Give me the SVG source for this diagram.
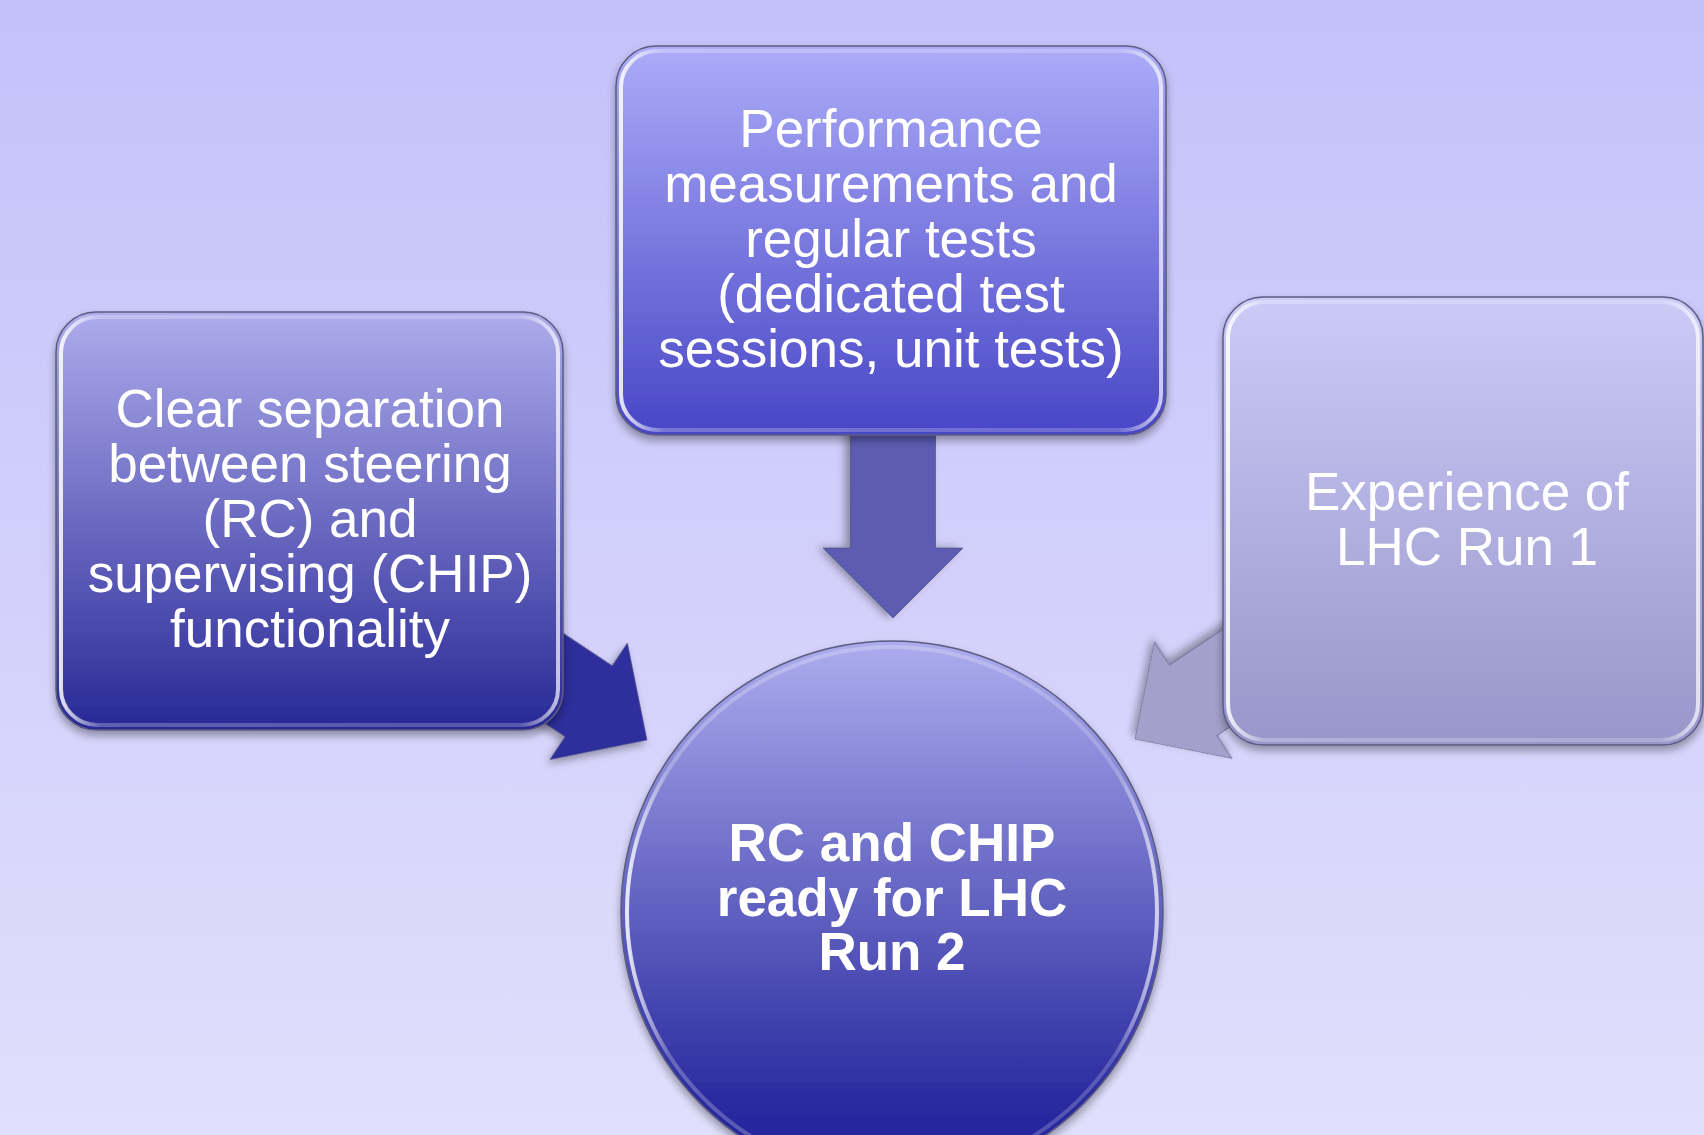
<svg xmlns="http://www.w3.org/2000/svg" width="1704" height="1135" viewBox="0 0 1704 1135">
  <defs>
    <linearGradient id="bg" x1="0" y1="0" x2="0" y2="1">
      <stop offset="0" stop-color="#c4c1fa"/>
      <stop offset="1" stop-color="#e0dffc"/>
    </linearGradient>
    <linearGradient id="gTop" x1="0" y1="0" x2="0" y2="1">
      <stop offset="0" stop-color="#acacf9"/>
      <stop offset="1" stop-color="#4846c6"/>
    </linearGradient>
    <linearGradient id="gLeft" x1="0" y1="0" x2="0" y2="1">
      <stop offset="0" stop-color="#aeacec"/>
      <stop offset="1" stop-color="#282896"/>
    </linearGradient>
    <linearGradient id="gRight" x1="0" y1="0" x2="0" y2="1">
      <stop offset="0" stop-color="#cccaf7"/>
      <stop offset="1" stop-color="#9896ca"/>
    </linearGradient>
    <linearGradient id="gCircle" x1="0" y1="0" x2="0" y2="1">
      <stop offset="0" stop-color="#acacee"/>
      <stop offset="0.85" stop-color="#2a2aa0"/>
      <stop offset="1" stop-color="#20209a"/>
    </linearGradient>
    <linearGradient id="hl" x1="0" y1="0" x2="1" y2="0">
      <stop offset="0" stop-color="#ffffff" stop-opacity="0.85"/>
      <stop offset="0.08" stop-color="#ffffff" stop-opacity="0.25"/>
      <stop offset="0.92" stop-color="#ffffff" stop-opacity="0.2"/>
      <stop offset="1" stop-color="#ffffff" stop-opacity="0.7"/>
    </linearGradient>
    <filter id="sh" x="-10%" y="-10%" width="120%" height="125%">
      <feGaussianBlur in="SourceAlpha" stdDeviation="4"/>
      <feOffset dx="0" dy="5" result="b"/>
      <feComponentTransfer><feFuncA type="linear" slope="0.35"/></feComponentTransfer>
      <feMerge><feMergeNode/><feMergeNode in="SourceGraphic"/></feMerge>
    </filter>
    <path id="arrow" d="M0,0 L-70,-70 L-70,-42.5 L-170,-42.5 L-170,42.5 L-70,42.5 L-70,70 Z"/>
    <path id="arrowLong" d="M0,0 L-70,-70 L-70,-42.5 L-200,-42.5 L-200,42.5 L-70,42.5 L-70,70 Z"/>
  </defs>
  <style>
    .box { stroke: #5c5c80; stroke-width: 1.5; }
    .bevel { fill: none; stroke: url(#hl); stroke-width: 4; }
    .lbl { font-family: "Liberation Sans", Arial, sans-serif; font-size: 53px; fill: #ffffff; text-anchor: middle; }
    .bold { font-weight: bold; }
    .arr { stroke: #4a4a70; stroke-width: 1; stroke-opacity: 0.6; }
  </style>

  <rect x="0" y="0" width="1704" height="1135" fill="url(#bg)"/>

  <g id="connectors">
    <use href="#arrowLong" transform="translate(893,618) rotate(90)" fill="#5b5bb3" class="arr" filter="url(#sh)"/>
    <use href="#arrow" transform="translate(647,740) rotate(33.6)" fill="#2f2f9c" class="arr" filter="url(#sh)"/>
    <use href="#arrow" transform="translate(1135,739) rotate(146.3)" fill="#a3a1cb" class="arr" filter="url(#sh)"/>
  </g>

  <g id="node-top">
    <rect x="616" y="46" width="550" height="389" rx="40" fill="url(#gTop)" class="box" filter="url(#sh)"/>
    <rect x="621" y="51" width="540" height="379" rx="36" class="bevel"/>
    <text class="lbl" x="891" y="147">Performance</text>
    <text class="lbl" x="891" y="202">measurements and</text>
    <text class="lbl" x="891" y="257">regular tests</text>
    <text class="lbl" x="891" y="312">(dedicated test</text>
    <text class="lbl" x="891" y="367">sessions, unit tests)</text>
  </g>

  <g id="node-left">
    <rect x="56" y="312" width="507" height="418" rx="40" fill="url(#gLeft)" class="box" filter="url(#sh)"/>
    <rect x="61" y="317" width="497" height="408" rx="36" class="bevel"/>
    <text class="lbl" x="310" y="427">Clear separation</text>
    <text class="lbl" x="310" y="482">between steering</text>
    <text class="lbl" x="310" y="537">(RC) and</text>
    <text class="lbl" x="310" y="592">supervising (CHIP)</text>
    <text class="lbl" x="310" y="647">functionality</text>
  </g>

  <g id="node-right">
    <rect x="1223" y="297" width="480" height="448" rx="40" fill="url(#gRight)" class="box" filter="url(#sh)"/>
    <rect x="1228" y="302" width="470" height="438" rx="36" class="bevel"/>
    <text class="lbl" x="1467" y="510">Experience of</text>
    <text class="lbl" x="1467" y="565">LHC Run 1</text>
  </g>

  <g id="node-center">
    <circle cx="892" cy="912" r="271" fill="url(#gCircle)" class="box" filter="url(#sh)"/>
    <circle cx="892" cy="912" r="265" class="bevel"/>
    <text class="lbl bold" x="892" y="861">RC and CHIP</text>
    <text class="lbl bold" x="892" y="916">ready for LHC</text>
    <text class="lbl bold" x="892" y="970">Run 2</text>
  </g>
</svg>
